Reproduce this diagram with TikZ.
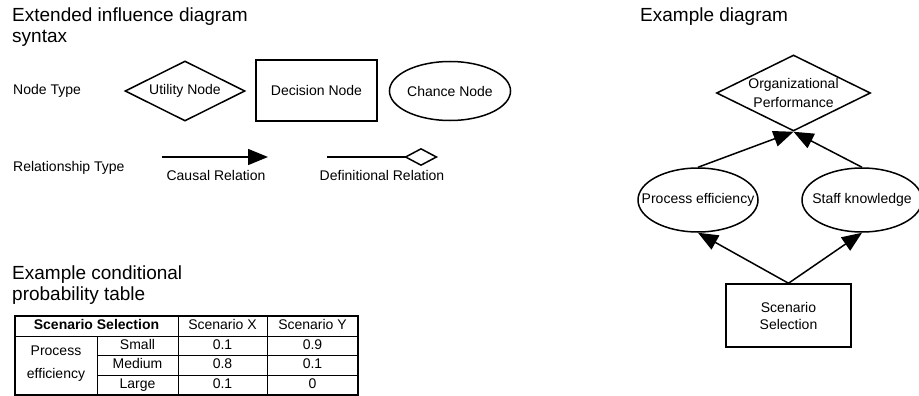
\documentclass[tikz,border=0pt]{standalone}
\usepackage{fontspec}
\setmainfont{Liberation Sans}
\usetikzlibrary{shapes.geometric,arrows.meta}

\begin{document}
\begin{tikzpicture}[x=1pt,y=-1pt,
    font=\fontsize{14}{17}\selectfont,
    every node/.style={inner sep=0pt},
    headline/.style={anchor=base west,align=left,font=\fontsize{19}{21}\selectfont},
    utility/.style={draw,shape=diamond,aspect=2,line width=1.5pt},
    decision/.style={draw,rectangle,line width=1.5pt},
    chance/.style={draw,ellipse,line width=1.5pt},
    causal/.style={line width=1.5pt,-{Triangle[length=20pt,width=16pt]}},
    definitional/.style={line width=1.5pt,-{Diamond[open,length=34pt,width=18pt]}},
    cell/.style={text height=10pt,text depth=3pt}]
    \useasboundingbox (0,0) rectangle (919,396);

    \node[headline] (syntaxtitle) at (12,43) {Extended influence diagram\\syntax};
    \node[anchor=base west] (nodetype) at (13,95) {Node Type};
    \node[utility,minimum width=120pt,minimum height=60pt] (util) at (185,91) {Utility Node};
    \node[decision,minimum width=121pt,minimum height=61pt] (dec) at (316.5,90.5) {Decision Node};
    \node[chance,minimum width=120pt,minimum height=59pt] (chn) at (450,91) {Chance Node};

    \node[anchor=base west] (reltype) at (13,171) {Relationship Type};
    \coordinate (causalstart) at (162,157);
    \coordinate (causalend) at (268,157);
    \draw[causal] (causalstart) -- (causalend);
    \node[anchor=base] (causallabel) at (216,180) {Causal Relation};
    \coordinate (defstart) at (327,157);
    \coordinate (defend) at (438,157);
    \draw[definitional] (defstart) -- (defend);
    \node[anchor=base] (deflabel) at (382,180) {Definitional Relation};

    \node[headline] (tabletitle) at (12,300) {Example conditional\\probability table};
    \draw[line width=1.2pt] (15,316) rectangle (358,395);
    \draw[line width=1pt] (15,336) -- (358,336);
    \foreach \y in {355.5,375} \draw[line width=1pt] (97,\y) -- (358,\y);
    \foreach \x in {178,267} \draw[line width=1pt] (\x,316) -- (\x,395);
    \draw[line width=1pt] (97,336) -- (97,395);
    \node[cell,font=\fontsize{14}{17}\selectfont\bfseries] (hsel) at (96.5,326) {Scenario Selection};
    \node[cell] (hx) at (222.5,326) {Scenario X};
    \node[cell] (hy) at (312.5,326) {Scenario Y};
    \node[align=center,font=\fontsize{14}{23}\selectfont] (pecell) at (56,364) {Process\\efficiency};
    \node[cell] (rsmall) at (137.5,345.75) {Small};
    \node[cell] (rmedium) at (137.5,365.25) {Medium};
    \node[cell] (rlarge) at (137.5,385) {Large};
    \node[cell] (xsmall) at (222.5,345.75) {0.1};
    \node[cell] (xmedium) at (222.5,365.25) {0.8};
    \node[cell] (xlarge) at (222.5,385) {0.1};
    \node[cell] (ysmall) at (312.5,345.75) {0.9};
    \node[cell] (ymedium) at (312.5,365.25) {0.1};
    \node[cell] (ylarge) at (312.5,385) {0};

    \node[headline] (exampletitle) at (640,22) {Example diagram};
    \node[utility,minimum width=154pt,minimum height=76pt] (perf) at (793.5,93) {};
    \node[align=center,font=\fontsize{14}{19}\selectfont] (perftext) at (perf) {Organizational\\Performance};
    \node[chance,minimum width=120pt,minimum height=64pt] (proc) at (698,200) {};
    \node (proctext) at (proc) {Process efficiency};
    \node[chance,minimum width=120pt,minimum height=64pt] (staff) at (862,200) {};
    \node (stafftext) at (staff) {Staff knowledge};
    \node[decision,minimum width=125pt,minimum height=63pt,align=center] (scen) at (788.5,315.5) {Scenario\\Selection};

    \draw[causal] (proc.north) -- (perf.south);
    \draw[causal] (staff.north) -- (perf.south);
    \draw[causal] (scen.north) -- (proc.south);
    \draw[causal] (scen.north) -- (staff.south);
\end{tikzpicture}
\end{document}
